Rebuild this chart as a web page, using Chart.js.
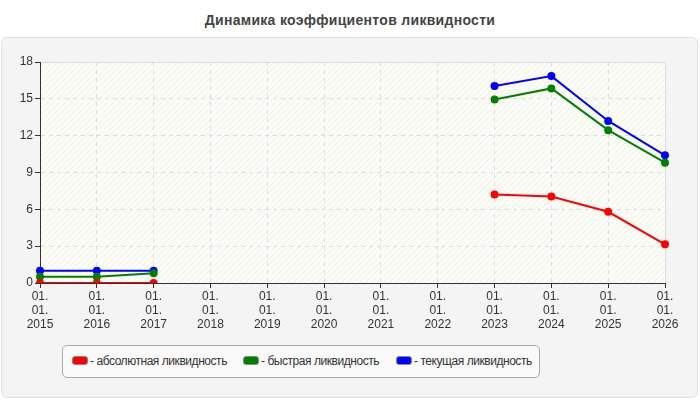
<!DOCTYPE html>
<html>
<head>
<meta charset="utf-8">
<script src="https://cdn.jsdelivr.net/npm/chart.js@4.4.1/dist/chart.umd.min.js"></script>
<style>
  body { margin: 0; background: #fff; font-family: Arial, "Liberation Sans", sans-serif; }
  #wrap { position: relative; width: 700px; height: 400px; }
  #title { position: absolute; left: 0; top: 12px; width: 700px; text-align: center;
           font-weight: bold; font-size: 14px; color: #444; letter-spacing: 0.3px; }
  #panel { position: absolute; left: 1px; top: 37px; width: 695px; height: 359px;
           background: #f4f4f4; border: 1px solid #e2e2e2; border-radius: 6px; }
  #chart { position: absolute; left: 0; top: 0; }
  #legend { position: absolute; left: 62px; top: 345px; width: 476px; height: 31px;
            background: #fafafa; border: 1px solid #aaa; border-radius: 5px;
            font-size: 12px; color: #333; letter-spacing: -0.45px; }
  .item { position: absolute; top: 8px; white-space: nowrap; }
  .sw { display: inline-block; width: 14px; height: 7px; border: 1px solid #888;
        border-radius: 3px; vertical-align: middle; margin-right: 2px; position: relative; top: -1px; }
</style>
</head>
<body>
<div id="wrap">
  <div id="title">Динамика коэффициентов ликвидности</div>
  <div id="panel"></div>
  <canvas id="chart" width="700" height="400"></canvas>
  <div id="legend"></div>
</div>
<script>
// years on the x axis
var years = ["2015","2016","2017","2018","2019","2020","2021","2022","2023","2024","2025","2026"];
var yTicks = [0, 3, 6, 9, 12, 15, 18];

// ratios, null where there is no data
var absLiq   = [0, 0, 0, null, null, null, null, null, 7.2, 7.05, 5.8, 3.15];
var quickLiq = [0.5, 0.5, 0.8, null, null, null, null, null, 14.95, 15.85, 12.45, 9.8];
var curLiq   = [1.0, 1.0, 1.0, null, null, null, null, null, 16.05, 16.85, 13.2, 10.4];

var names  = ["абсолютная ликвидность", "быстрая ликвидность", "текущая ликвидность"];
var colors = ["#ff0000", "#008000", "#0000ff"];
var legendX = [9, 180, 333];

var labels = years.map(function(y) { return ["01.", "01.", y]; });

// hatched plot background + light frame on top/right
var plotBg = {
  id: "plotBg",
  beforeDraw: function(chart) {
    var a = chart.chartArea, ctx = chart.ctx;
    var p = document.createElement("canvas");
    p.width = 6; p.height = 6;
    var pc = p.getContext("2d");
    pc.fillStyle = "#fdfdf8";
    pc.fillRect(0, 0, 6, 6);
    pc.strokeStyle = "#f0f0ea";
    pc.lineWidth = 1;
    pc.beginPath();
    pc.moveTo(0, 6); pc.lineTo(6, 0);
    pc.moveTo(-1, 1); pc.lineTo(1, -1);
    pc.moveTo(5, 7); pc.lineTo(7, 5);
    pc.stroke();
    ctx.save();
    ctx.fillStyle = ctx.createPattern(p, "repeat");
    ctx.fillRect(a.left, a.top, a.right - a.left, a.bottom - a.top);
    ctx.strokeStyle = "#dddddd";
    ctx.lineWidth = 1;
    ctx.beginPath();
    ctx.moveTo(a.left, a.top + 0.5); ctx.lineTo(a.right + 0.5, a.top + 0.5);
    ctx.lineTo(a.right + 0.5, a.bottom);
    ctx.stroke();
    ctx.restore();
  }
};

function ds(data, i) {
  return {
    label: names[i], data: data,
    borderColor: colors[i], backgroundColor: colors[i],
    borderWidth: 2, pointRadius: 3, pointHoverRadius: 3,
    tension: 0, spanGaps: false
  };
}

var tickFont = { size: 12, family: "Arial, 'Liberation Sans'" };

var ctx = document.getElementById("chart").getContext("2d");
new Chart(ctx, {
  type: "line",
  data: { labels: labels, datasets: [ds(absLiq, 0), ds(quickLiq, 1), ds(curLiq, 2)] },
  options: {
    responsive: false, animation: false,
    layout: { padding: { left: 10, right: 35, top: 62, bottom: 0 } },
    plugins: { legend: { display: false }, tooltip: { enabled: false } },
    scales: {
      x: {
        offset: false,
        afterFit: function(s) { s.height = 117; },
        grid: { color: "#dddddd", tickLength: 5, tickColor: "#333", tickBorderDash: [] },
        border: { color: "#333", width: 1, dash: [4, 4] },
        ticks: { color: "#333", font: tickFont, maxRotation: 0, autoSkip: false, padding: 1 }
      },
      y: {
        min: 0, max: 18,
        afterFit: function(s) { s.width = 30; },
        afterBuildTicks: function(s) { s.ticks = yTicks.map(function(v) { return { value: v }; }); },
        grid: { color: function(c) { return c.tick && c.tick.value === 18 ? "rgba(0,0,0,0)" : "#dddddd"; },
                tickLength: 5, tickColor: "#333", tickBorderDash: [] },
        border: { color: "#333", width: 1, dash: [4, 4] },
        ticks: { color: "#333", font: tickFont, padding: 2 }
      }
    }
  },
  plugins: [plotBg]
});

// legend as html
var lg = document.getElementById("legend");
names.forEach(function(n, i) {
  var d = document.createElement("div");
  d.className = "item";
  d.style.left = legendX[i] + "px";
  d.innerHTML = '<span class="sw" style="background:' + colors[i] + '"></span>- ' + n;
  lg.appendChild(d);
});
</script>
</body>
</html>
